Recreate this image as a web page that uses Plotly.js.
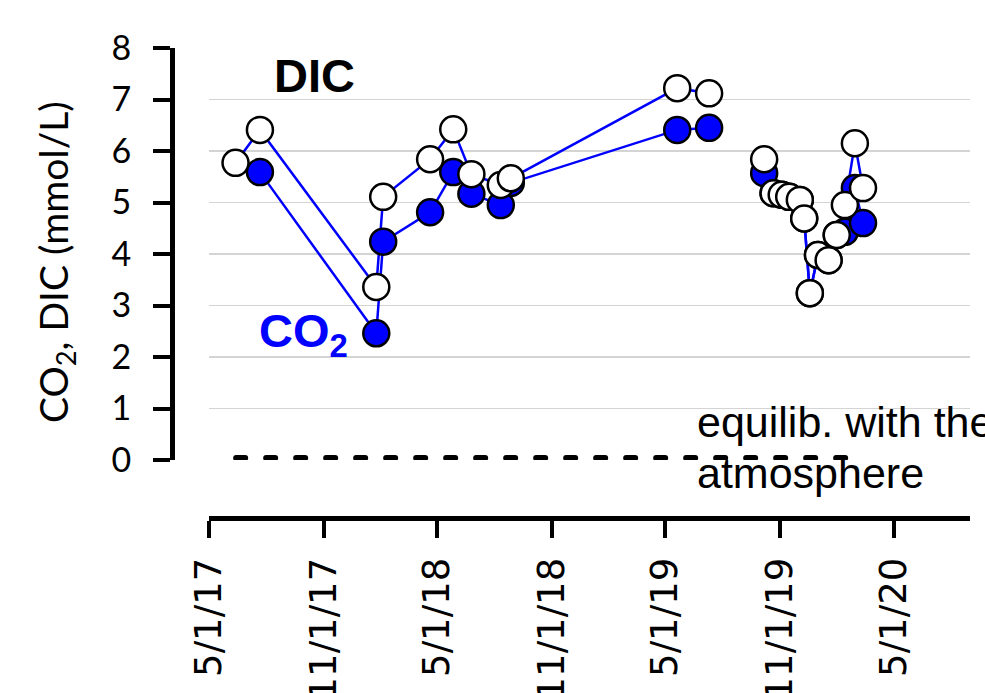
<!DOCTYPE html>
<html>
<head>
<meta charset="utf-8">
<script src="https://cdn.plot.ly/plotly-3.0.1.min.js"></script>
<style>
html, body { margin: 0; padding: 0; background: #fff; }
#chart { width: 985px; height: 693px; }
.js-line { stroke-linecap: round; }
</style>
</head>
<body>
<div id="chart"></div>
<script>
// Sampling dates (a null entry marks the gap in the record)
const sampleDates = [
  "2017-06-13", "2017-07-22", "2018-01-24", "2018-02-04", "2018-04-20",
  "2018-05-27", "2018-06-25", "2018-08-11", "2018-08-27", "2019-05-20",
  "2019-07-10", "2019-08-20", "2019-10-06", "2019-10-21", "2019-11-03",
  "2019-11-15", "2019-12-02", "2019-12-09", "2019-12-18", "2019-12-31",
  "2020-01-17", "2020-01-30", "2020-02-12", "2020-02-28", "2020-03-12"
];
// DIC (mmol/L) – open circles
const dicValues = [
  5.77, 6.41, 3.36, 5.11, 5.84,
  6.42, 5.55, 5.34, 5.47, 7.22,
  7.12, null, 5.84, 5.18, 5.15,
  5.11, 5.05, 4.69, 3.24, 3.98,
  3.88, 4.37, 4.95, 6.15, 5.28
];
// CO2 (mmol/L) – filled blue circles
const co2Values = [
  null, 5.59, 2.46, 4.24, 4.81,
  5.59, 5.17, 4.95, 5.38, 6.41,
  6.45, null, 5.57, 5.18, 5.15,
  5.11, 5.05, 4.69, 3.24, 3.98,
  3.88, 4.37, 4.43, 5.28, 4.60
];
// Equilibrium with the atmosphere
const equilDates = ["2017-06-14", "2020-03-12"];
const equilValues = [0.04, 0.04];

// Axis ticks
const xTickDates = ["2017-05-01", "2017-11-01", "2018-05-01", "2018-11-01", "2019-05-01", "2019-11-01", "2020-05-01"];
const xTickLabels = ["5/1/17", "11/1/17", "5/1/18", "11/1/18", "5/1/19", "11/1/19", "5/1/20"];
const yTickValues = [0, 1, 2, 3, 4, 5, 6, 7, 8];
const yTickLabels = ["0", "1", "2", "3", "4", "5", "6", "7", "8"];

const BLUE = "#0000ff";

const traces = [
  {
    x: equilDates, y: equilValues, type: "scatter", mode: "lines",
    line: { color: "#000000", width: 6, dash: "9px,21px" },
    hoverinfo: "skip"
  },
  {
    x: sampleDates, y: co2Values, type: "scatter", mode: "lines",
    line: { color: BLUE, width: 2.5 }, connectgaps: false
  },
  {
    x: sampleDates, y: dicValues, type: "scatter", mode: "lines",
    line: { color: BLUE, width: 2.5 }, connectgaps: false
  },
  {
    x: sampleDates, y: co2Values, type: "scatter", mode: "markers",
    marker: { size: 26, color: BLUE, line: { color: "#000000", width: 2.5 } }
  },
  {
    x: sampleDates, y: dicValues, type: "scatter", mode: "markers",
    marker: { size: 26, color: "#ffffff", line: { color: "#000000", width: 2.5 } }
  }
];

const layout = {
  width: 985, height: 693,
  margin: { l: 172, r: 15, t: 48, b: 175, pad: 0 },
  paper_bgcolor: "#ffffff", plot_bgcolor: "#ffffff",
  showlegend: false,
  xaxis: {
    type: "date",
    range: ["2017-05-01", "2020-08-30"],
    domain: [0.0459, 1],
    anchor: "free", position: 0,
    showline: true, linecolor: "#000000", linewidth: 5,
    ticks: "outside", ticklen: 17, tickwidth: 4, tickcolor: "#000000",
    tickmode: "array", tickvals: xTickDates, ticktext: xTickLabels,
    tickangle: -90,
    tickfont: { family: "DejaVu Sans", size: 37, color: "#000000" },
    ticklabelstandoff: 5,
    showgrid: false, zeroline: false
  },
  yaxis: {
    range: [0, 8],
    domain: [0.1234, 1],
    anchor: "free", position: 0,
    showline: true, linecolor: "#000000", linewidth: 5,
    ticks: "outside", ticklen: 17, tickwidth: 4, tickcolor: "#000000",
    tickmode: "array", tickvals: yTickValues, ticktext: yTickLabels,
    tickfont: { family: "Lato, 'Open Sans', sans-serif", size: 34, color: "#000000" },
    ticklabelstandoff: 15,
    showgrid: true, gridcolor: "#d4d4d4", gridwidth: 1.5,
    zeroline: false
  },
  annotations: [
    {
      text: "CO<sub>2</sub>, DIC (mmol/L)",
      xref: "paper", yref: "paper", x: -0.1454, y: 0.5447,
      xanchor: "center", yanchor: "middle", textangle: -90,
      showarrow: false, borderpad: 0,
      font: { family: "Lato, 'Open Sans', sans-serif", size: 39, color: "#000000" }
    },
    {
      text: "<b>DIC</b>",
      xref: "paper", yref: "paper", x: 0.1786, y: 0.9417,
      xanchor: "center", yanchor: "middle", showarrow: false, borderpad: 0,
      font: { family: "Liberation Sans, Arial, sans-serif", size: 47, color: "#000000" }
    },
    {
      text: "<b>CO<sub>2</sub></b>",
      xref: "paper", yref: "paper", x: 0.1078, y: 0.3915,
      xanchor: "left", yanchor: "middle", showarrow: false, borderpad: 0,
      font: { family: "Liberation Sans, Arial, sans-serif", size: 47, color: BLUE }
    },
    {
      text: "equilib. with the",
      xref: "paper", yref: "paper", x: 0.6566, y: 0.2049,
      xanchor: "left", yanchor: "middle", showarrow: false, borderpad: 0,
      font: { family: "Liberation Sans, Arial, sans-serif", size: 43, color: "#000000" }
    },
    {
      text: "atmosphere",
      xref: "paper", yref: "paper", x: 0.6566, y: 0.096,
      xanchor: "left", yanchor: "middle", showarrow: false, borderpad: 0,
      font: { family: "Liberation Sans, Arial, sans-serif", size: 43, color: "#000000" }
    }
  ]
};

Plotly.newPlot("chart", traces, layout, { staticPlot: true, displayModeBar: false });
</script>
</body>
</html>
